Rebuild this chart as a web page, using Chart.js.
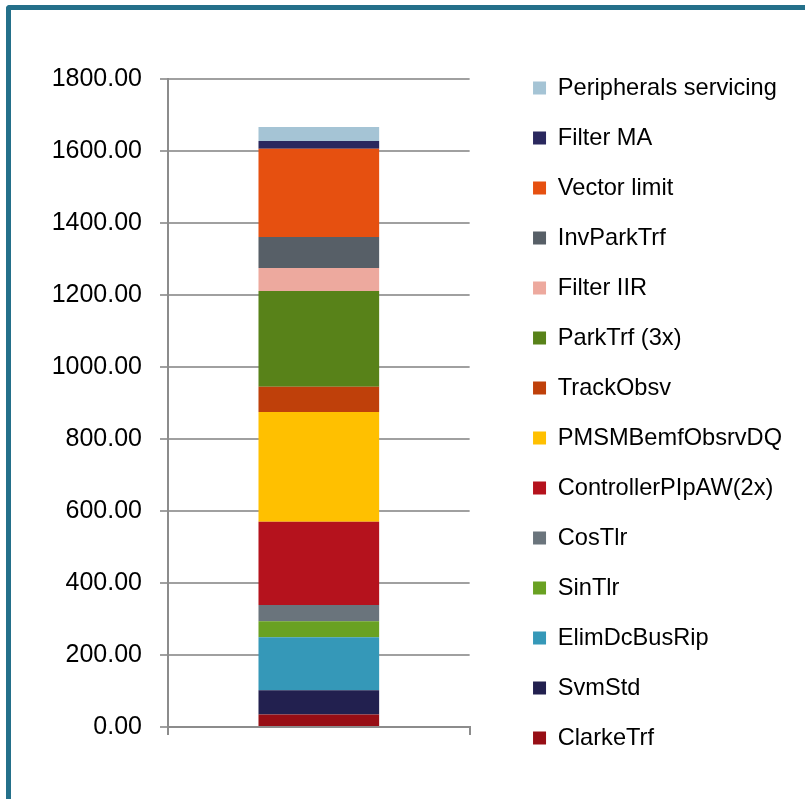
<!DOCTYPE html>
<html>
<head>
<meta charset="utf-8">
<title>CPU load breakdown</title>
<script src="https://cdn.jsdelivr.net/npm/chart.js@4.4.1/dist/chart.umd.min.js"></script>
<style>
  body { margin: 0; background: #fff; }
  #frame {
    position: absolute; left: 6px; top: 5px; width: 820px; height: 820px;
    border-left: 5px solid #24708a; border-top: 5px solid #24708a;
    border-top-left-radius: 4px;
  }
  #chart { position: absolute; left: 0; top: 0; }
</style>
</head>
<body>
<div id="frame"></div>
<canvas id="chart" width="805" height="799"></canvas>
<script>
// ----- Data (bottom of the stack first) -----
const categories = [""];
const seriesNames = [
  "ClarkeTrf", "SvmStd", "ElimDcBusRip", "SinTlr", "CosTlr",
  "ControllerPIpAW(2x)", "PMSMBemfObsrvDQ", "TrackObsv", "ParkTrf (3x)",
  "Filter IIR", "InvParkTrf", "Vector limit", "Filter MA", "Peripherals servicing"
];
const seriesValues = [35, 67, 147, 45, 45, 231, 305, 70, 266, 64, 86, 245, 22, 39];
const seriesColors = [
  "#970e15", "#22204f", "#3598b8", "#69a122", "#6a747c",
  "#b5121d", "#ffc000", "#bf400a", "#588219",
  "#eda99e", "#575f67", "#e65010", "#2a285e", "#a5c4d5"
];
const yTicks = [0, 200, 400, 600, 800, 1000, 1200, 1400, 1600, 1800];

// ----- Build datasets -----
const datasets = seriesNames.map((name, i) => ({
  label: name,
  data: [seriesValues[i]],
  backgroundColor: seriesColors[i],
  borderWidth: 0,
  categoryPercentage: 1.0,
  barPercentage: 0.4
}));

const axisGray = "#8c8c8c";
const gridGray = "#a0a0a0";

// ----- Render chart -----
function renderChart() {
  const ctx = document.getElementById('chart').getContext('2d');
  new Chart(ctx, {
    type: 'bar',
    data: { labels: categories, datasets: datasets },
    options: {
      responsive: false,
      animation: false,
      devicePixelRatio: 1,
      layout: { padding: { top: 49, bottom: 22, left: 0, right: 13 } },
      plugins: {
        title: { display: true, text: '', fullSize: false, padding: 0, font: { size: 25 } },
        tooltip: { enabled: false },
        legend: {
          position: 'right',
          reverse: true,
          maxWidth: 400,
          labels: {
            boxWidth: 13,
            boxHeight: 13,
            padding: 26.4,
            color: '#000',
            font: { family: 'Arial, "Liberation Sans"', size: 23.6 }
          }
        }
      },
      scales: {
        x: {
          stacked: true,
          grid: { display: true, drawOnChartArea: false, drawTicks: true, tickLength: 8, color: axisGray, lineWidth: 2, offset: true },
          border: { display: true, color: axisGray, width: 2 },
          ticks: { display: false },
          afterFit: s => { s.height = 50; }
        },
        y: {
          stacked: true,
          min: 0,
          max: 1800,
          afterBuildTicks: s => { s.ticks = yTicks.map(v => ({ value: v })); },
          grid: { color: gridGray, lineWidth: 2, tickLength: 8 },
          border: { display: true, color: axisGray, width: 2 },
          ticks: {
            padding: 18,
            color: '#000',
            font: { family: 'Arial, "Liberation Sans"', size: 25 },
            callback: v => Number(v).toFixed(2)
          },
          afterFit: s => { s.width = 168; }
        },
        // empty axis that only keeps a gap between the plot and the legend
        gap: {
          position: 'right',
          display: true,
          grid: { display: false },
          border: { display: false },
          ticks: { display: false },
          afterFit: s => { s.width = 37; }
        }
      }
    }
  });
}

window.onload = function() {
  renderChart();
};
</script>
</body>
</html>
